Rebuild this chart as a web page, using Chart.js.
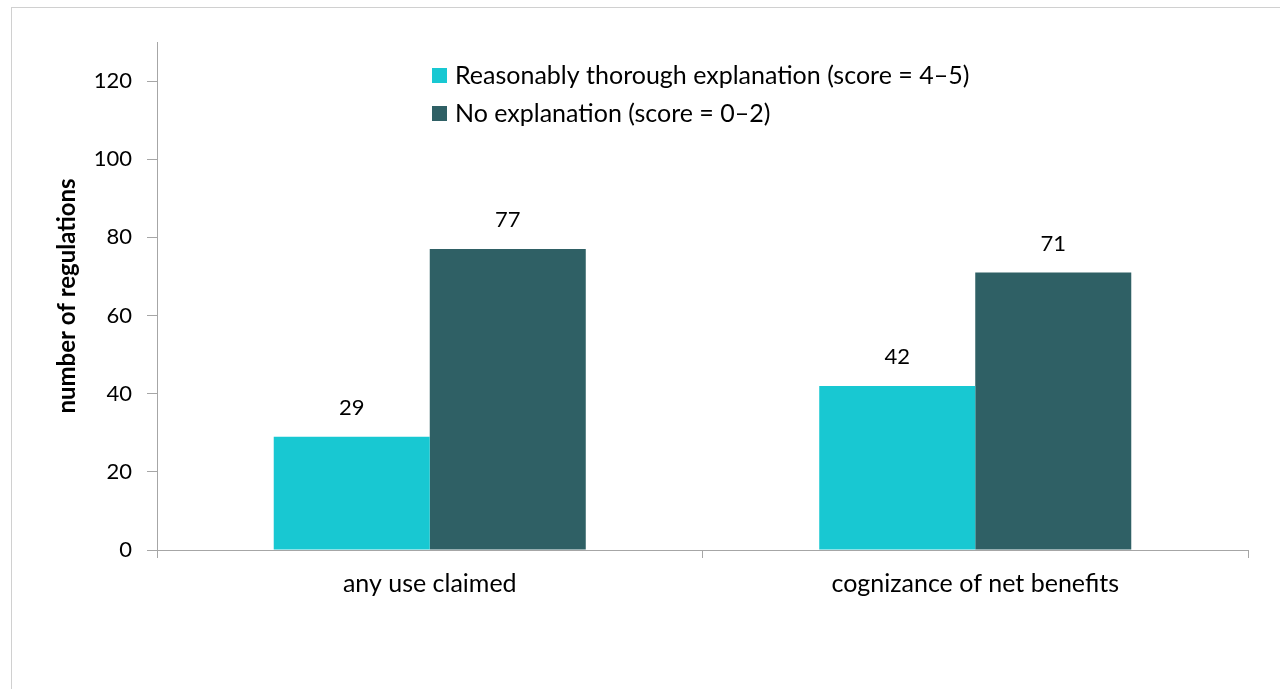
<!DOCTYPE html>
<html>
<head>
<meta charset="utf-8">
<script src="https://cdn.jsdelivr.net/npm/chart.js@4.4.0/dist/chart.umd.min.js"></script>
<style>
  html, body { margin: 0; padding: 0; background: #ffffff; }
  #frame { position: absolute; left: 11px; top: 7px; width: 1300px; height: 720px;
           border-top: 1px solid #d0d0d0; border-left: 1px solid #d0d0d0; }
  #wrap { position: absolute; left: 0; top: 0; width: 1280px; height: 689px; }
</style>
</head>
<body>
<div id="frame"></div>
<div id="wrap"><canvas id="c" width="1280" height="689"></canvas></div>
<script>
const categories = ["any use claimed", "cognizance of net benefits"];
const seriesNames = ["Reasonably thorough explanation (score = 4\u20135)", "No explanation (score = 0\u20132)"];
const thoroughValues = [29, 42];
const noExplanationValues = [77, 71];
const yTicks = [0, 20, 40, 60, 80, 100, 120];
const yAxisTitle = "number of regulations";

const FONT = "Lato, 'Open Sans', sans-serif";

const valueLabels = {
  id: 'valueLabels',
  afterDatasetsDraw(chart) {
    const ctx = chart.ctx;
    ctx.save();
    ctx.font = "22px " + FONT;
    ctx.fillStyle = "#000";
    ctx.textAlign = "center";
    ctx.textBaseline = "alphabetic";
    chart.data.datasets.forEach((ds, i) => {
      chart.getDatasetMeta(i).data.forEach((bar, j) => {
        ctx.fillText(String(ds.data[j]), bar.x, bar.y - 22);
      });
    });
    ctx.restore();
  }
};

const customLegend = {
  id: 'customLegend',
  afterDraw(chart) {
    const ctx = chart.ctx;
    ctx.save();
    ctx.font = "25px " + FONT;
    ctx.textBaseline = "middle";
    ctx.textAlign = "left";
    const x0 = 432, y0 = 76, rowH = 38;
    chart.data.datasets.forEach((ds, i) => {
      const y = y0 + i * rowH;
      ctx.fillStyle = ds.backgroundColor;
      ctx.fillRect(x0, y - 8, 15, 15);
      ctx.fillStyle = "#000";
      ctx.fillText(ds.label, x0 + 23, y);
    });
    ctx.restore();
  }
};

new Chart(document.getElementById('c'), {
  type: 'bar',
  data: {
    labels: categories,
    datasets: [
      { label: seriesNames[0], data: thoroughValues, backgroundColor: '#18c8d2',
        categoryPercentage: 0.572, barPercentage: 1.0 },
      { label: seriesNames[1], data: noExplanationValues, backgroundColor: '#2f6065',
        categoryPercentage: 0.572, barPercentage: 1.0 }
    ]
  },
  options: {
    responsive: false,
    animation: false,
    devicePixelRatio: 1,
    layout: { padding: { left: 0, top: 42, right: 32, bottom: 0 } },
    plugins: {
      legend: { display: false },
      tooltip: { enabled: false }
    },
    scales: {
      x: {
        grid: { display: true, drawOnChartArea: false, drawTicks: true, tickLength: 8,
                color: '#a6a6a6', offset: true },
        border: { display: true, color: '#a6a6a6', width: 1 },
        ticks: { color: '#000', font: { family: FONT, size: 25 }, padding: 11 },
        afterFit(scale) { scale.height = 139; }
      },
      y: {
        min: 0, max: 130,
        afterBuildTicks(scale) { scale.ticks = yTicks.map(v => ({ value: v })); },
        grid: { display: true, drawOnChartArea: false, drawTicks: true, tickLength: 10,
                color: '#a6a6a6' },
        border: { display: true, color: '#a6a6a6', width: 1 },
        ticks: { color: '#000', font: { family: FONT, size: 22 }, padding: 15 },
        title: { display: true, text: yAxisTitle, color: '#000',
                 font: { family: FONT, size: 24, weight: 'bold' }, padding: { top: 53, bottom: 0 } },
        afterFit(scale) { scale.width = 157; }
      }
    }
  },
  plugins: [valueLabels, customLegend]
});
</script>
</body>
</html>
